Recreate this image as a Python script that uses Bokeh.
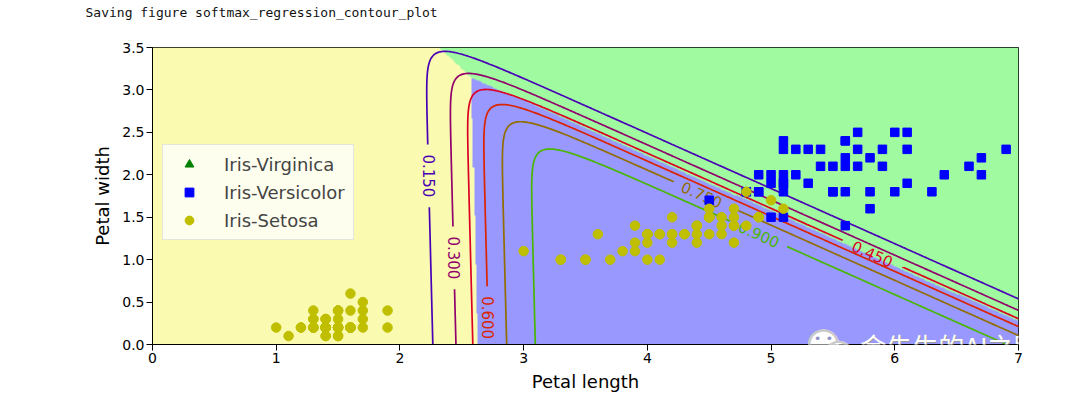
import numpy as np
from contourpy import contour_generator
from bokeh.plotting import figure
from bokeh.models import (ColumnDataSource, LinearColorMapper, FixedTicker, Legend,
                          LegendItem, Label, Range1d)
from bokeh.core.properties import value
from bokeh.embed import file_html
from bokeh.resources import INLINE

# ---------------- data (iris petal measurements) ----------------
petal_length = [
    1.4, 1.4, 1.3, 1.5, 1.4, 1.7, 1.4, 1.5, 1.4, 1.5,
    1.5, 1.6, 1.4, 1.1, 1.2, 1.5, 1.3, 1.4, 1.7, 1.5,
    1.7, 1.5, 1.0, 1.7, 1.9, 1.6, 1.6, 1.5, 1.4, 1.6,
    1.6, 1.5, 1.5, 1.4, 1.5, 1.2, 1.3, 1.4, 1.3, 1.5,
    1.3, 1.3, 1.3, 1.6, 1.9, 1.4, 1.6, 1.4, 1.5, 1.4,
    4.7, 4.5, 4.9, 4.0, 4.6, 4.5, 4.7, 3.3, 4.6, 3.9,
    3.5, 4.2, 4.0, 4.7, 3.6, 4.4, 4.5, 4.1, 4.5, 3.9,
    4.8, 4.0, 4.9, 4.7, 4.3, 4.4, 4.8, 5.0, 4.5, 3.5,
    3.8, 3.7, 3.9, 5.1, 4.5, 4.5, 4.7, 4.4, 4.1, 4.0,
    4.4, 4.6, 4.0, 3.3, 4.2, 4.2, 4.2, 4.3, 3.0, 4.1,
    6.0, 5.1, 5.9, 5.6, 5.8, 6.6, 4.5, 6.3, 5.8, 6.1,
    5.1, 5.3, 5.5, 5.0, 5.1, 5.3, 5.5, 6.7, 6.9, 5.0,
    5.7, 4.9, 6.7, 4.9, 5.7, 6.0, 4.8, 4.9, 5.6, 5.8,
    6.1, 6.4, 5.6, 5.1, 5.6, 6.1, 5.6, 5.5, 4.8, 5.4,
    5.6, 5.1, 5.1, 5.9, 5.7, 5.2, 5.0, 5.2, 5.4, 5.1,
]
petal_width = [
    0.2, 0.2, 0.2, 0.2, 0.2, 0.4, 0.3, 0.2, 0.2, 0.1,
    0.2, 0.2, 0.1, 0.1, 0.2, 0.4, 0.4, 0.3, 0.3, 0.3,
    0.2, 0.4, 0.2, 0.5, 0.2, 0.2, 0.4, 0.2, 0.2, 0.2,
    0.2, 0.4, 0.1, 0.2, 0.2, 0.2, 0.2, 0.1, 0.2, 0.2,
    0.3, 0.3, 0.2, 0.6, 0.4, 0.3, 0.2, 0.2, 0.2, 0.2,
    1.4, 1.5, 1.5, 1.3, 1.5, 1.3, 1.6, 1.0, 1.3, 1.4,
    1.0, 1.5, 1.0, 1.4, 1.3, 1.4, 1.5, 1.0, 1.5, 1.1,
    1.8, 1.3, 1.5, 1.2, 1.3, 1.4, 1.4, 1.7, 1.5, 1.0,
    1.1, 1.0, 1.2, 1.6, 1.5, 1.6, 1.5, 1.3, 1.3, 1.3,
    1.2, 1.4, 1.2, 1.0, 1.3, 1.2, 1.3, 1.3, 1.1, 1.3,
    2.5, 1.9, 2.1, 1.8, 2.2, 2.1, 1.7, 1.8, 1.8, 2.5,
    2.0, 1.9, 2.1, 2.0, 2.4, 2.3, 1.8, 2.2, 2.3, 1.5,
    2.3, 2.0, 2.0, 1.8, 2.1, 1.8, 1.8, 1.8, 2.1, 1.6,
    1.9, 2.0, 2.2, 1.5, 1.4, 2.3, 2.4, 1.8, 1.8, 2.1,
    2.4, 2.3, 1.9, 2.3, 2.5, 2.3, 1.9, 2.0, 2.3, 1.8,
]
species = [0] * 50 + [1] * 50 + [2] * 50   # 0 setosa, 1 versicolor, 2 virginica
# the original figure plots with a binary label (1 = virginica), so its
# "Iris-Virginica" (y == 2) series is empty
virginica_series_x = [float("nan")]
virginica_series_y = [float("nan")]

legend_labels = ["Iris-Virginica", "Iris-Versicolor", "Iris-Setosa"]
contour_levels = [0.15, 0.30, 0.45, 0.60, 0.75, 0.90]
x_ticks = [0, 1, 2, 3, 4, 5, 6, 7]
y_ticks = [0.0, 0.5, 1.0, 1.5, 2.0, 2.5, 3.0, 3.5]
y_tick_labels = ["0.0", "0.5", "1.0", "1.5", "2.0", "2.5", "3.0", "3.5"]
reg_C = 10.0

# ---------------- softmax regression fit (multinomial, L2, C=10) ----------------
X = np.column_stack([petal_length, petal_width])
yk = np.array(species)
n, K = len(yk), 3
Xa = np.column_stack([X, np.ones(n)])
Y = np.eye(K)[yk]
regm = np.zeros((3, K)); regm[:2, :] = 1.0


def probs(W, A):
    z = A @ W
    z = z - z.max(axis=1, keepdims=True)
    e = np.exp(z)
    return e / e.sum(axis=1, keepdims=True)


def loss(W):
    P = probs(W, Xa)
    return 0.5 * np.sum(regm * W * W) - reg_C * np.sum(Y * np.log(np.clip(P, 1e-300, None)))


W = np.zeros((3, K))
for _ in range(200):
    P = probs(W, Xa)
    G = reg_C * Xa.T @ (P - Y) + regm * W
    if np.abs(G).max() < 1e-10:
        break
    S = P[:, :, None] * np.eye(K)[None] - P[:, :, None] * P[:, None, :]
    H = reg_C * np.einsum('ia,ib,ikl->akbl', Xa, Xa, S).reshape(3 * K, 3 * K) + np.diag(regm.ravel())
    step = (np.linalg.pinv(H) @ G.ravel()).reshape(3, K)
    t, L0 = 1.0, loss(W)
    while loss(W - t * step) > L0 and t > 1e-10:
        t *= 0.5
    W = W - t * step

# probability grid for the contour lines (same grid as the original figure)
gx = np.linspace(0, 8, 500)
gy = np.linspace(0, 3.5, 200)
GX, GY = np.meshgrid(gx, gy)
Pg = probs(W, np.column_stack([GX.ravel(), GY.ravel(), np.ones(GX.size)]))
zz1 = Pg[:, 1].reshape(GX.shape)

# class-region image (cell centres)
nx, ny = 700, 300
ix = (np.arange(nx) + 0.5) * 7.0 / nx
iy = (np.arange(ny) + 0.5) * 3.5 / ny
IX, IY = np.meshgrid(ix, iy)
Pi = probs(W, np.column_stack([IX.ravel(), IY.ravel(), np.ones(IX.size)]))
region = Pi.argmax(axis=1).reshape(IX.shape).astype(float)

# ---------------- figure ----------------
FW, FH = 866, 297
p = figure(width=1080, height=396, x_range=Range1d(0, 7), y_range=Range1d(0, 3.5),
           output_backend="svg", toolbar_location=None,
           min_border_left=152, min_border_right=62, min_border_top=47, min_border_bottom=52)
p.background_fill_color = "white"
p.border_fill_color = "white"
p.outline_line_color = "black"
p.outline_line_width = 1
p.grid.visible = False

p.title.text = "Saving figure softmax_regression_contour_plot\n "
p.title.align = "left"
p.title.vertical_align = "top"
p.title.offset = -67
p.title.standoff = 4
p.title.text_line_height = 1.6
p.title.text_font = "DejaVu Sans Mono"
p.title.text_font_size = "13px"
p.title.text_font_style = "normal"
p.title.text_color = "#111111"

cmap = LinearColorMapper(palette=["#fafab0", "#9898ff", "#a0faa0"], low=0, high=2)
p.image(image=[region], x=0, y=0, dw=7, dh=3.5, color_mapper=cmap)

# contour lines of P(versicolor) with inline labels
contour_colors = ["#4900b6", "#92006d", "#db0024", "#db2400", "#926d00", "#49b600"]
label_targets = {0.15: (2.24, 1.99), 0.30: (2.44, 1.02), 0.45: (5.83, 1.11),
                 0.60: (2.72, 0.31), 0.75: (4.45, 1.78), 0.90: (4.91, 1.32)}
sx, sy = FW / 7.0, FH / 3.5
lab_px = 15
cg = contour_generator(gx, gy, zz1)
ml_xs, ml_ys, ml_c = [], [], []
lab = dict(x=[], y=[], text=[], angle=[], color=[])
for lev, col in zip(contour_levels, contour_colors):
    segs = [np.asarray(s) for s in cg.lines(lev) if len(s) > 1]
    tx, ty = label_targets[lev]
    best = None
    for si, s in enumerate(segs):
        d = ((s[:, 0] - tx) * sx) ** 2 + ((s[:, 1] - ty) * sy) ** 2
        j = int(d.argmin())
        if best is None or d[j] < best[0]:
            best = (d[j], si, j)
    _, si, j = best
    s = segs[si]
    j0, j1 = max(j - 5, 0), min(j + 5, len(s) - 1)
    ang = np.degrees(np.arctan2((s[j1, 1] - s[j0, 1]) * sy, (s[j1, 0] - s[j0, 0]) * sx))
    ang = (ang + 90) % 180 - 90
    if abs(ang) > 80:
        ang = -90.0
    rad = np.radians(ang)
    cx, cy = s[j]
    txt = f"{lev:.3f}"
    lab["x"].append(cx); lab["y"].append(cy); lab["text"].append(txt)
    lab["angle"].append(rad); lab["color"].append(col)
    half_len = 0.5 * lab_px * 2.86 + 9
    half_h = 0.5 * lab_px + 2
    ca, sa = np.cos(rad), np.sin(rad)
    for s2 in segs:
        px = (s2[:, 0] - cx) * sx
        py = (s2[:, 1] - cy) * sy
        along = px * ca + py * sa
        perp = -px * sa + py * ca
        keep = ~((np.abs(along) < half_len) & (np.abs(perp) < half_h))
        edges = np.flatnonzero(np.diff(np.r_[0, keep.astype(int), 0]))
        for a, b in zip(edges[::2], edges[1::2]):
            if b - a > 1:
                ml_xs.append(s2[a:b, 0].tolist())
                ml_ys.append(s2[a:b, 1].tolist())
                ml_c.append(col)

p.multi_line(xs="xs", ys="ys", line_color="c", line_width=1.7,
             source=ColumnDataSource(dict(xs=ml_xs, ys=ml_ys, c=ml_c)))
p.text(x="x", y="y", text="text", angle="angle", text_color="color",
       text_font=value("DejaVu Sans"), text_font_size=f"{lab_px}px",
       text_align="center", text_baseline="middle", source=ColumnDataSource(lab))

# scatter points (as in the original figure)
sp = np.array(species)
pl = np.array(petal_length)
pw = np.array(petal_width)
r_virg = p.scatter(x=virginica_series_x, y=virginica_series_y, marker="triangle",
                   size=9, color="#008000")
blue_src = ColumnDataSource(dict(x=pl[sp == 2], y=pw[sp == 2]))
r_vers = p.scatter(x="x", y="y", source=blue_src, marker="square", size=8.5, color="#0000ff")
yel_src = ColumnDataSource(dict(x=pl[sp != 2], y=pw[sp != 2]))
r_set = p.scatter(x="x", y="y", source=yel_src, marker="circle", size=9.5, color="#bfbf00")

legend = Legend(items=[LegendItem(label=legend_labels[0], renderers=[r_virg]),
                       LegendItem(label=legend_labels[1], renderers=[r_vers]),
                       LegendItem(label=legend_labels[2], renderers=[r_set])],
                location=(10, 104))
legend.label_text_font = "DejaVu Sans"
legend.label_text_font_size = "18px"
legend.label_height = 21
legend.glyph_height = 22
legend.glyph_width = 36
legend.label_standoff = 17
legend.spacing = 6
legend.padding = 8
legend.margin = 0
legend.background_fill_color = "white"
legend.background_fill_alpha = 0.8
legend.border_line_color = "#cccccc"
legend.border_line_width = 1
p.add_layout(legend, "center")

# axes
for ax in (p.xaxis[0], p.yaxis[0]):
    ax.axis_line_color = "black"
    ax.major_tick_line_color = "black"
    ax.major_tick_out = 6
    ax.major_tick_in = 0
    ax.minor_tick_line_color = None
    ax.major_label_text_font = "DejaVu Sans"
    ax.major_label_text_font_size = "14px"
    ax.major_label_text_color = "black"
    ax.axis_label_text_font = "DejaVu Sans"
    ax.axis_label_text_font_size = "18px"
    ax.axis_label_text_font_style = "normal"
    ax.axis_label_text_color = "black"
    ax.major_label_standoff = 2
p.xaxis.ticker = FixedTicker(ticks=x_ticks)
p.yaxis.ticker = FixedTicker(ticks=y_ticks)
p.yaxis.major_label_overrides = {v: t for v, t in zip(y_ticks, y_tick_labels)}
p.xaxis.axis_label = "Petal length"
p.yaxis.axis_label = "Petal width"
p.xaxis.axis_label_standoff = 5
p.yaxis.axis_label_standoff = 6

# watermark (WeChat-style badge + account name), drawn as annotations
for (bx, by, fs) in [(5.424, 0.04, 40), (5.545, -0.09, 38)]:
    p.add_layout(Label(x=bx, y=by, text="●", text_font="DejaVu Sans", text_font_size=f"{fs}px",
                       text_color="white", text_align="center", text_baseline="middle"))
    p.add_layout(Label(x=bx, y=by, text="○", text_font="DejaVu Sans", text_font_size=f"{fs}px",
                       text_color="#c8c8c8", text_align="center", text_baseline="middle"))
p.add_layout(Label(x=5.424, y=0.075, text="• •", text_font="DejaVu Sans", text_font_size="13px",
                   text_color="#8f93c8", text_align="center", text_baseline="middle"))
p.add_layout(Label(x=5.72, y=-0.012, text="金先生的AI之路", text_font="Noto Sans CJK SC",
                   text_font_size="26px", text_color="#9a9a9a", text_baseline="middle",
                   x_offset=1, y_offset=-1))
p.add_layout(Label(x=5.72, y=-0.012, text="金先生的AI之路", text_font="Noto Sans CJK SC",
                   text_font_size="26px", text_color="white", text_baseline="middle"))

open("out.html", "w").write(file_html(p, INLINE))
